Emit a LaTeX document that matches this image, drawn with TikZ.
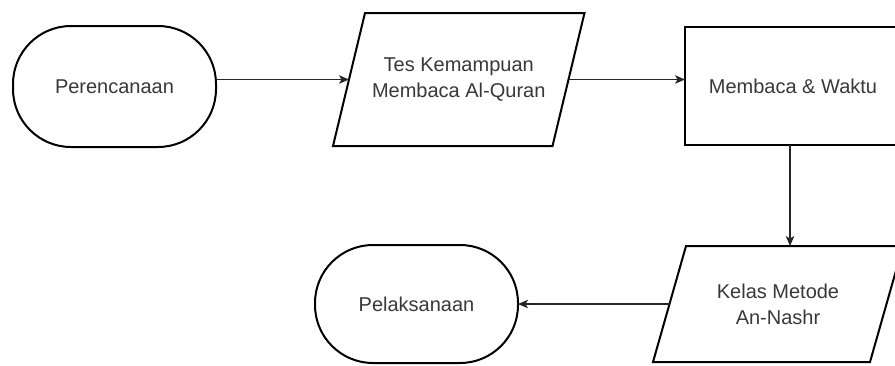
\documentclass[tikz,border=0pt]{standalone}
\usepackage{fontspec}
\setmainfont{Liberation Sans}
\usetikzlibrary{arrows.meta,calc}
\begin{document}
\begin{tikzpicture}[x=1pt,y=-1pt,
  base/.style={inner sep=0pt, outer sep=0pt, line width=2pt, draw=black, text=black!78,
               font=\fontsize{20pt}{26pt}\selectfont, align=center},
  term/.style={base, rounded corners=58pt, minimum width=203pt, minimum height=121pt},
  proc/.style={base, rectangle, minimum width=216pt, minimum height=118pt},
  iobody/.style={base, draw=none, rectangle},
  ioshape/.style={line width=2pt, draw=black, line join=miter},
  conn/.style={line width=1.1pt, draw=black!85, -{Stealth[length=10pt,width=8.5pt,inset=2.5pt]}}
]
\useasboundingbox (0,0) rectangle (895,365);
\clip (0,0) rectangle (895,365);

\node[term] (per) at (114.5,86.5) {Perencanaan};
\node[iobody, minimum width=219.5pt, minimum height=133pt] (p1) at (458.75,79.5) {Tes Kemampuan\\Membaca Al-Quran};
\draw[ioshape] ([xshift=16pt]p1.north west) -- ([xshift=16pt]p1.north east) -- ([xshift=-16pt]p1.south east) -- ([xshift=-16pt]p1.south west) -- cycle;
\node[proc] (mw) at (793,86) {Membaca \& Waktu};
\node[iobody, minimum width=217pt, minimum height=116pt] (p2) at (778,304) {Kelas Metode\\An-Nashr};
\draw[ioshape] ([xshift=16.5pt]p2.north west) -- ([xshift=16.5pt]p2.north east) -- ([xshift=-16.5pt]p2.south east) -- ([xshift=-16.5pt]p2.south west) -- cycle;
\node[term, minimum height=118pt] (pel) at (416.5,304) {Pelaksanaan};

\draw[conn] (per.east |- p1.west) -- (p1.west);
\draw[conn] (p1.east) -- (p1.east -| mw.west);
\draw[conn] ([xshift=-3pt]mw.south) -- ([xshift=-3pt]mw.south |- p2.north);
\draw[conn] (p2.west) -- (pel.east);
\end{tikzpicture}
\end{document}
